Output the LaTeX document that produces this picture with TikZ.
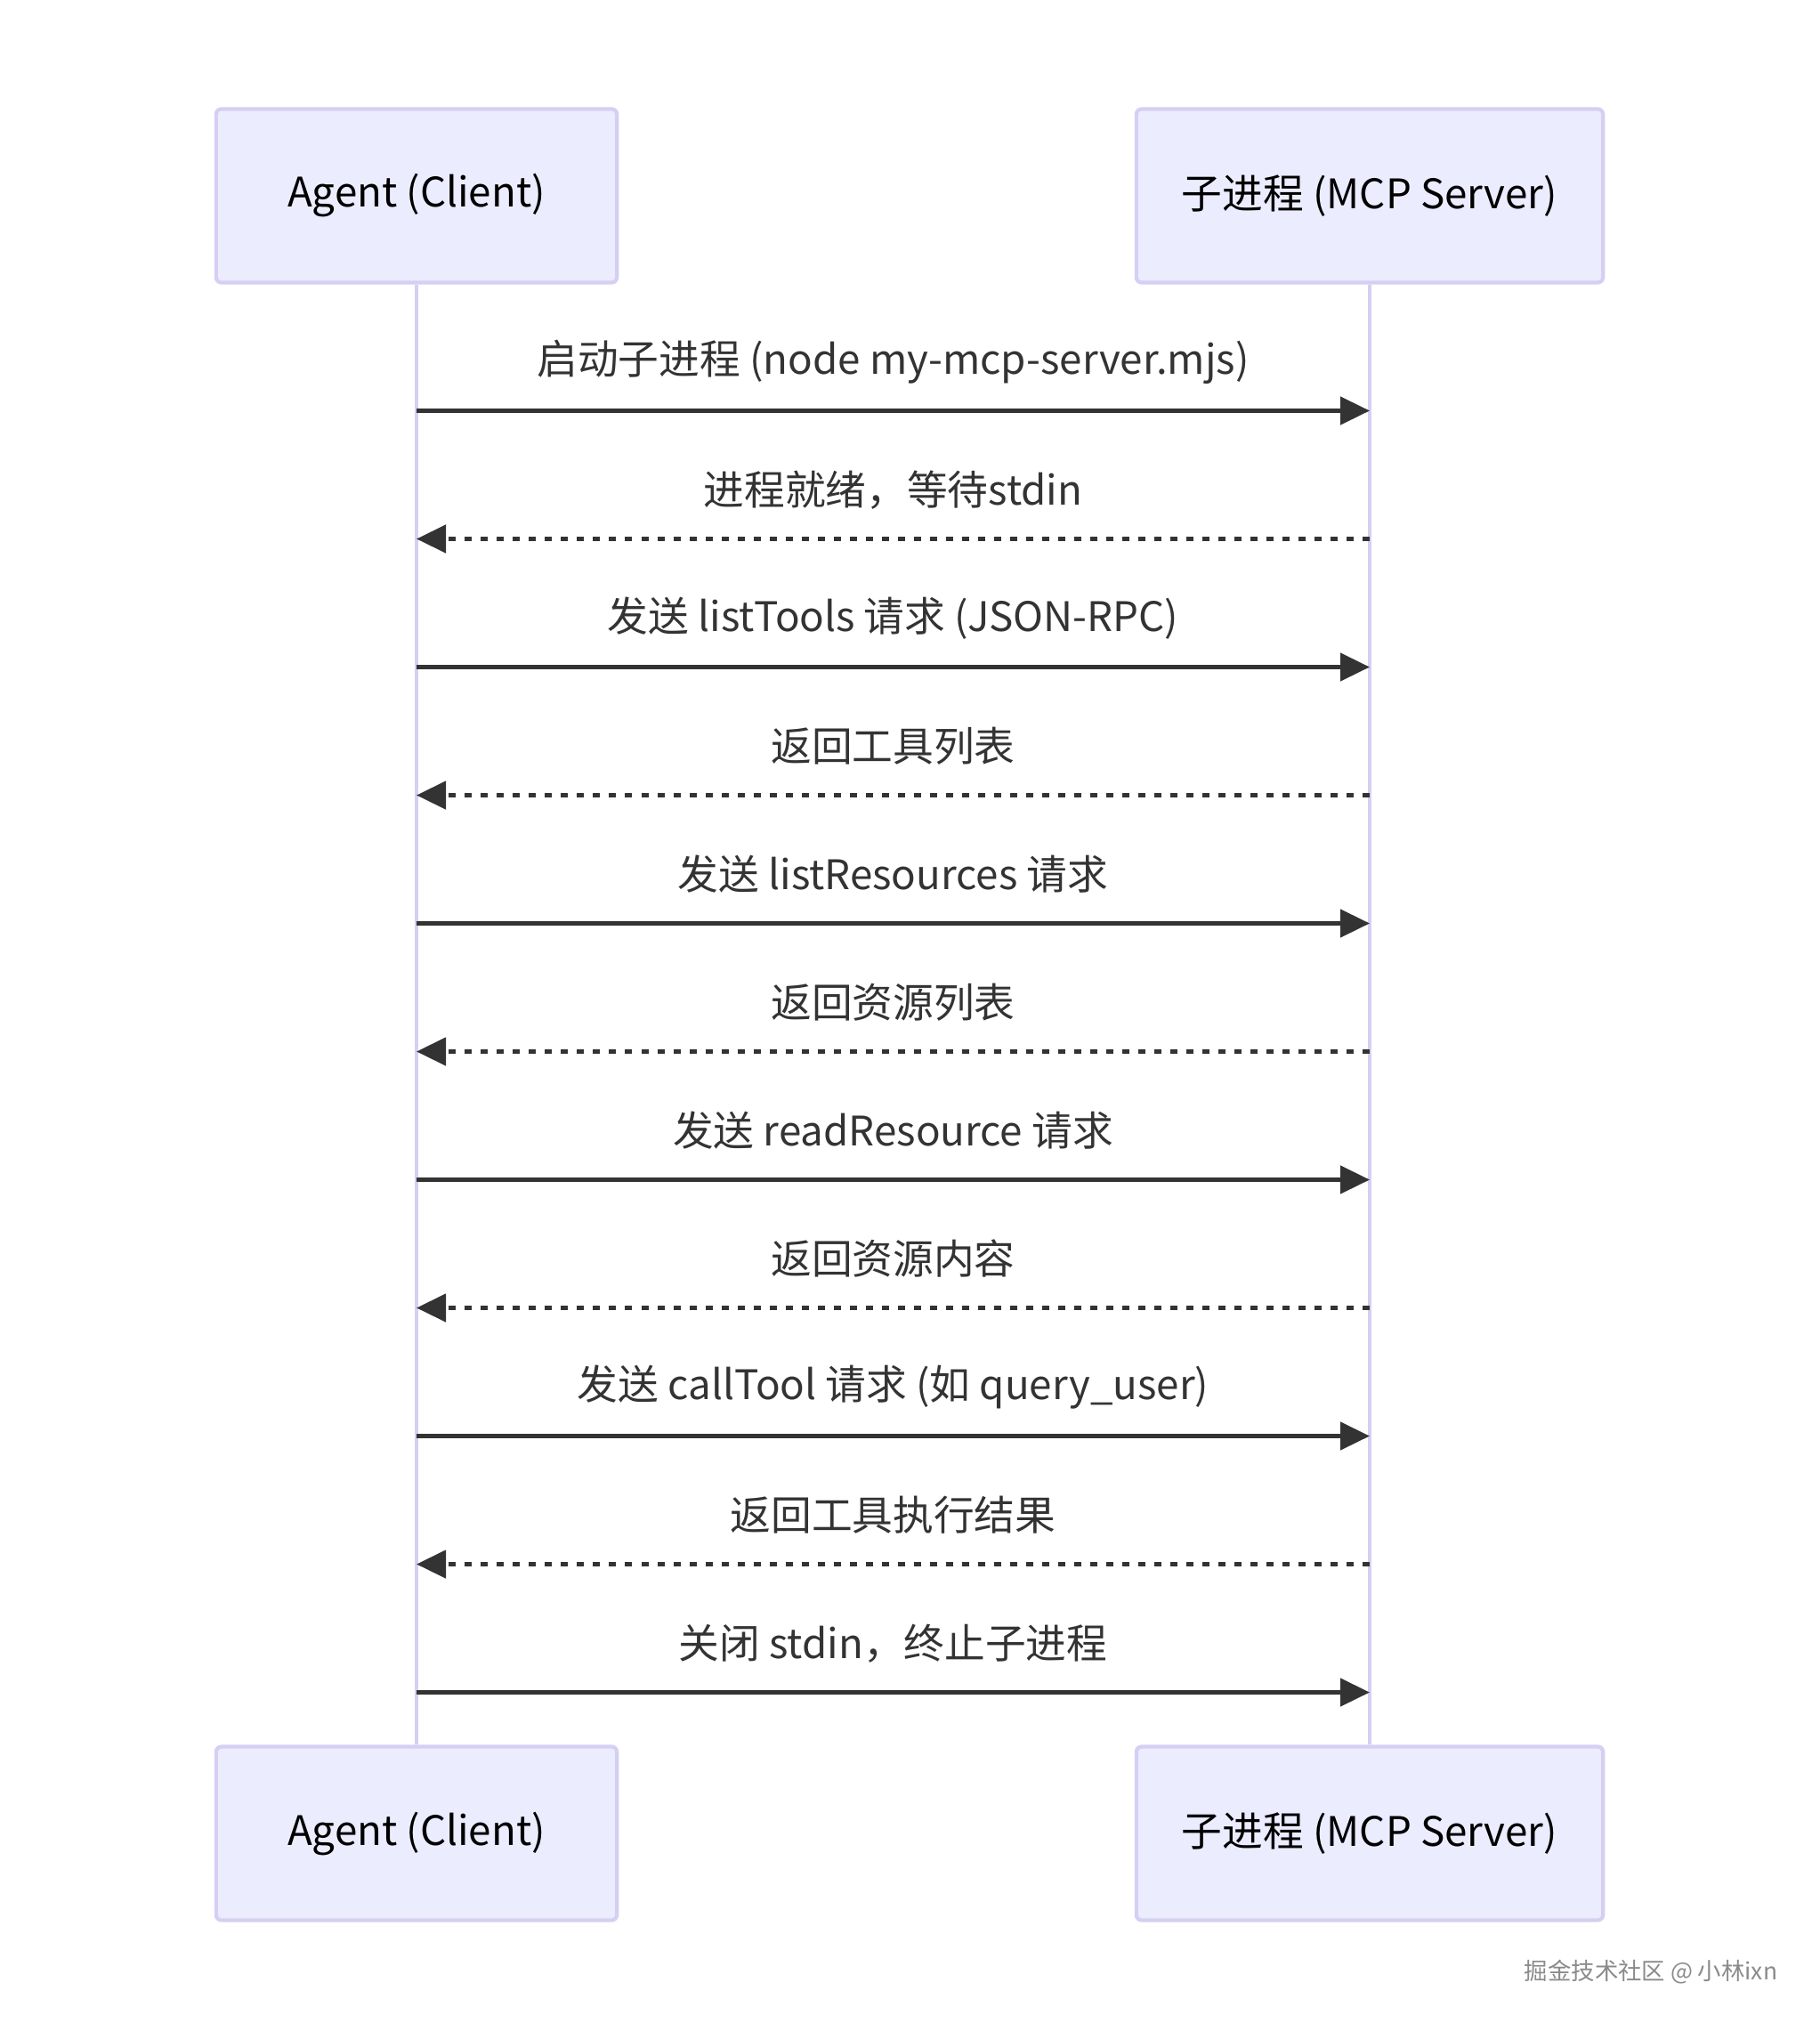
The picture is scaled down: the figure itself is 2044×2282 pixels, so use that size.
\documentclass[tikz,border=0pt]{standalone}
\usepackage{fontspec}
\setmainfont{Noto Sans CJK SC}
\usepackage{tikz}
\usetikzlibrary{arrows.meta,positioning}
\definecolor{actorfill}{HTML}{ECECFF}
\definecolor{actorline}{HTML}{D6CFF3}
\definecolor{msgdark}{HTML}{333333}
\definecolor{markgray}{HTML}{8A8A8A}

\begin{document}
\begin{tikzpicture}[
    x=0.01cm, y=-0.01cm,
    >={Triangle[length=0.33cm,width=0.31cm]},
    every node/.style={font=\fontsize{13}{15}\selectfont},
    actor/.style={
        rectangle,
        rounded corners=0.06cm,
        draw=actorline,
        fill=actorfill,
        line width=1.2pt,
        minimum height=1.95cm,
        text=black
    },
    lifeline/.style={actorline, line width=1.4pt},
    msg/.style={->, msgdark, line width=1.3pt},
    reply/.style={msg, dash pattern=on 0.08cm off 0.1cm},
    msglabel/.style={text=msgdark, yshift=0.55cm}
]
    \useasboundingbox (0,0) rectangle (2044,2282);

    % === ACTORS ===
    \node[actor, minimum width=4.5cm] (agentTop) at (468,220) {Agent (Client)};
    \node[actor, minimum width=5.24cm] (serverTop) at (1539,220) {子进程 (MCP Server)};
    \node[actor, minimum width=4.5cm] (agentBot) at (468,2060) {Agent (Client)};
    \node[actor, minimum width=5.24cm] (serverBot) at (1539,2060) {子进程 (MCP Server)};

    % lifelines
    \draw[lifeline] (agentTop.south) -- (agentBot.north);
    \draw[lifeline] (serverTop.south) -- (serverBot.north);

    % message rows on both lifelines
    \foreach \i in {1,...,11} {
        \pgfmathsetmacro\rowy{461.5+144*(\i-1)}
        \coordinate (a\i) at (468,\rowy);
        \coordinate (s\i) at (1539,\rowy);
    }

    % === MESSAGES ===
    \draw[msg] (a1) -- node[msglabel] {启动子进程 (node my-mcp-server.mjs)} (s1);
    \draw[reply] (s2) -- node[msglabel] {进程就绪，等待stdin} (a2);
    \draw[msg] (a3) -- node[msglabel] {发送 listTools 请求 (JSON-RPC)} (s3);
    \draw[reply] (s4) -- node[msglabel] {返回工具列表} (a4);
    \draw[msg] (a5) -- node[msglabel] {发送 listResources 请求} (s5);
    \draw[reply] (s6) -- node[msglabel] {返回资源列表} (a6);
    \draw[msg] (a7) -- node[msglabel] {发送 readResource 请求} (s7);
    \draw[reply] (s8) -- node[msglabel] {返回资源内容} (a8);
    \draw[msg] (a9) -- node[msglabel] {发送 callTool 请求 (如 query\_user)} (s9);
    \draw[reply] (s10) -- node[msglabel] {返回工具执行结果} (a10);
    \draw[msg] (a11) -- node[msglabel] {关闭 stdin，终止子进程} (s11);

    % watermark
    \node[text=markgray, font=\fontsize{7.5}{9}\selectfont] (mark) at (1855,2216) {掘金技术社区 @ 小林ixn};
\end{tikzpicture}
\end{document}
